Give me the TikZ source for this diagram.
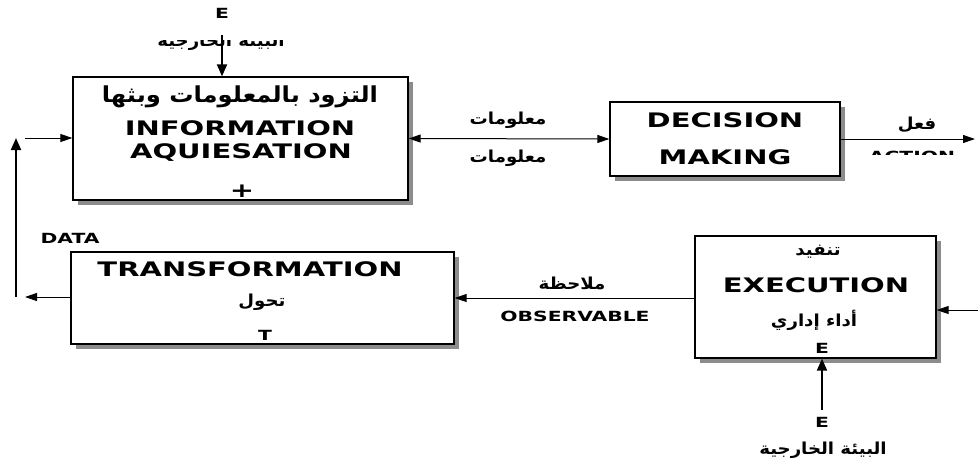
\documentclass[tikz,border=0pt]{standalone}
\usepackage{fontspec}
\setmainfont{DejaVu Sans}[FakeStretch=1.45]
\newfontfamily\arabicfont[Script=Arabic,FakeStretch=1.1]{DejaVu Sans}
\TeXXeTstate=1
\usetikzlibrary{arrows.meta,shadows}
\def\artext#1{{\arabicfont\beginR #1\endR}}

\begin{document}
\begin{tikzpicture}[x=1pt,y=-1pt,
		box/.style={draw, line width=1.3pt, fill=white, inner sep=0pt,
			drop shadow={shadow xshift=5pt, shadow yshift=-5pt, fill=black!45, opacity=1}},
		labbig/.style={font=\bfseries\fontsize{20}{24}\selectfont, inner sep=0pt},
		labsmall/.style={font=\bfseries\fontsize{14}{16}\selectfont, inner sep=0pt},
		arbig/.style={font=\bfseries\fontsize{22}{26}\selectfont, inner sep=0pt},
		arsmall/.style={font=\bfseries\fontsize{16.5}{19}\selectfont, inner sep=0pt},
		flow/.style={line width=1pt, -{Triangle[length=12pt,width=8pt]}},
		feed/.style={line width=2pt, -{Triangle[length=12pt,width=10pt]}}]
		%%%%% START %%%%%
		\useasboundingbox (0,0) rectangle (978,467);
		
		\node[box, minimum width=335pt, minimum height=123pt] (info) at (240.5,138.5) {};
		\node[box, minimum width=230pt, minimum height=74pt] (decision) at (725,139) {};
		\node[box, minimum width=383pt, minimum height=92pt] (transf) at (262.5,298) {};
		\node[box, minimum width=241pt, minimum height=122pt] (exec) at (815.5,297) {};
		
		\node[arbig] (infoar) at (240,97) {\artext{التزود بالمعلومات وبثها}};
		\node[labbig] (infoa) at (240,128) {INFORMATION};
		\node[labbig] (infob) at (241,153) {AQUIESATION};
		\node[labbig] (plus) at (242,191) {+};
		
		\node[labbig] (deca) at (725,120) {DECISION};
		\node[labbig] (decb) at (725,157) {MAKING};
		
		\node[labbig] (transa) at (250,269) {TRANSFORMATION};
		\node[arsmall] (transar) at (262,302) {\artext{تحول}};
		\node[labsmall] (transt) at (265,335) {T};
		
		\node[arsmall] (execar) at (818,252) {\artext{تنفيد}};
		\node[labbig] (execa) at (816,285) {EXECUTION};
		\node[arsmall] (execarb) at (814,320) {\artext{أداء إداري}};
		\node[labsmall] (exece) at (822,348) {E};
		
		% top input
		\node[labsmall] (tope) at (222,13) {E};
		\begin{scope}
			\clip (140,40.5) rectangle (300,55);
			\node[arsmall, anchor=base] (topar) at (221,46) {\artext{البيئة الخارجية}};
		\end{scope}
		\coordinate (topin) at (222,35);
		\draw[feed] (topin) -- (topin |- info.north);
		
		% info <-> decision
		\draw[line width=1pt, {Triangle[length=12pt,width=8pt]}-{Triangle[length=12pt,width=8pt]}] (info.east) -- (decision.west);
		\node[arsmall] (infoup) at (508,120) {\artext{معلومات}};
		\node[arsmall] (infodown) at (508,158) {\artext{معلومات}};
		
		% action
		\coordinate (actend) at (975,139);
		\draw[flow] (decision.east) -- (actend);
		\node[arsmall] (actar) at (917,125) {\artext{فعل}};
		\begin{scope}
			\clip (850,140) rectangle (978,154);
			\node[labsmall] (actlab) at (912,156) {ACTION};
		\end{scope}
		
		% data loop
		\coordinate (datain) at (25,138);
		\coordinate (dataout) at (25,297);
		\coordinate (loopbot) at (16,297);
		\coordinate (looptop) at (16,138);
		\draw[flow] (datain) -- (datain -| info.west);
		\draw[flow] (transf.west |- dataout) -- (dataout);
		\draw[feed] (loopbot) -- (looptop);
		\node[labsmall] (data) at (70,238) {DATA};
		
		% observable
		\draw[flow] (exec.west |- 0,298) -- (transf.east |- 0,298);
		\node[arsmall] (obsar) at (572,283) {\artext{ملاحظة}};
		\node[labsmall] (obs) at (575,316) {OBSERVABLE};
		
		% right input
		\coordinate (rightin) at (978,310);
		\draw[flow] (rightin) -- (rightin -| exec.east);
		
		% bottom input
		\coordinate (botin) at (822,410);
		\draw[feed] (botin) -- (botin |- exec.south);
		\node[labsmall] (bote) at (822,422) {E};
		\node[arsmall] (botar) at (823,450) {\artext{البيئة الخارجية}};
		
		%%%%% END %%%%%
\end{tikzpicture}
\end{document}
